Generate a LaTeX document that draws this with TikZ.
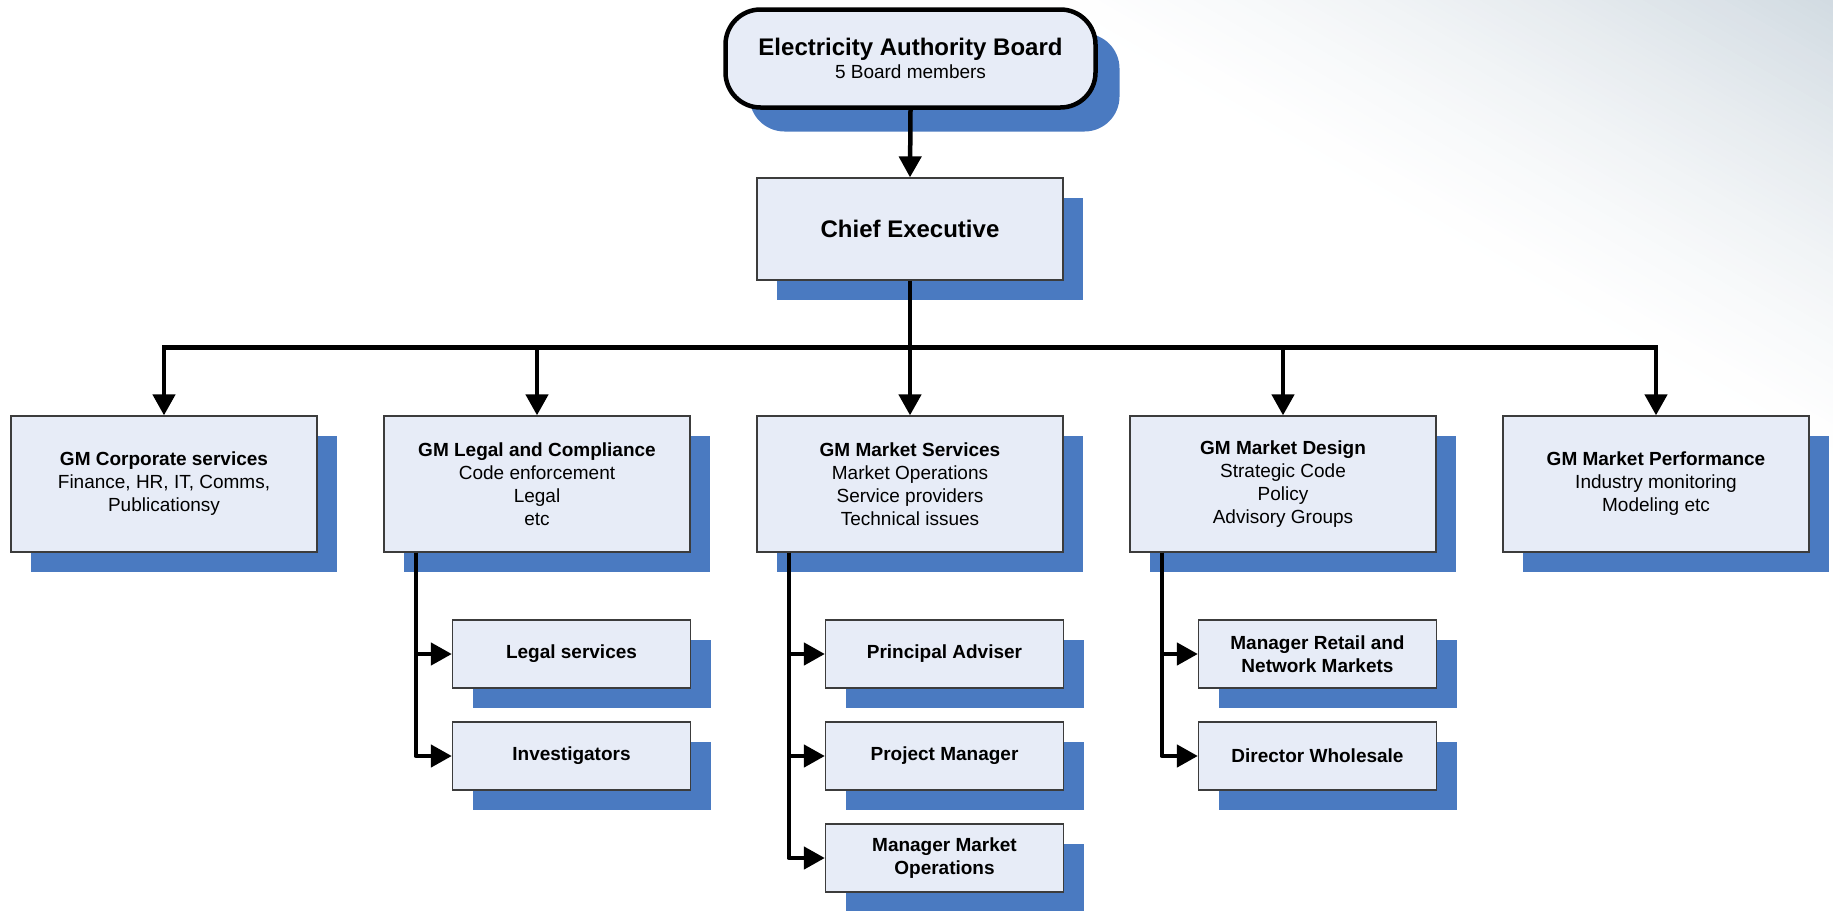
\documentclass[tikz,border=0pt]{standalone}
\usepackage{fontspec}
\setmainfont{Liberation Sans}
\usetikzlibrary{arrows.meta,shadows,calc}
\definecolor{boxfill}{RGB}{231,236,247}
\definecolor{shadowblue}{RGB}{74,122,193}
\definecolor{boxline}{RGB}{60,60,60}
\definecolor{haze}{RGB}{210,219,226}

\begin{document}
\begin{tikzpicture}[x=1pt,y=-1pt,
  every node/.style={font=\fontsize{19}{23}\selectfont},
  box/.style={draw=boxline, line width=1.3pt, fill=boxfill, align=center, inner sep=0pt,
    drop shadow={shadow xshift=20pt, shadow yshift=-20pt, fill=shadowblue, opacity=1}},
  gmbox/.style={box, minimum width=306pt, minimum height=136pt},
  subbox/.style={box, minimum width=238pt, minimum height=68pt,
    font=\fontsize{19}{23}\selectfont\bfseries},
  boardbox/.style={draw=black, line width=4.5pt, fill=boxfill, rounded corners=35pt,
    align=center, inner sep=0pt, minimum width=370pt, minimum height=98pt,
    drop shadow={shadow xshift=24pt, shadow yshift=-24pt, fill=shadowblue, opacity=1}},
  conn/.style={line width=4.5pt, black},
  arr/.style={conn, line join=miter, -{Triangle[length=21pt,width=22pt]}},
  subarr/.style={conn, line join=round, -{Triangle[length=21pt,width=22pt]}}
]
\useasboundingbox (0,0) rectangle (1833,910);

% background with a soft tint fading out from the upper right corner
\fill[white] (0,0) rectangle (1833,910);
\begin{scope}
  \clip (0,0) rectangle (1833,910);
  \foreach \i in {0,...,59} {
    \pgfmathsetmacro\d{\i*6.8}
    \pgfmathtruncatemacro\p{100*(1-\i/60)^1.4}
    \fill[haze!\p!white, rotate around={-30:(1833,0)}]
      (-1000,\d) rectangle (2600,\d+7.3);
  }
\end{scope}

% board and chief executive
\node[boardbox] (board) at (910.5,58.5)
  {{\fontsize{24}{25}\selectfont\bfseries Electricity Authority Board}\\
   {\fontsize{19}{25}\selectfont 5 Board members}};
\node[box, minimum width=306pt, minimum height=102pt,
  font=\fontsize{24}{28}\selectfont\bfseries] (ce) at (910,229) {Chief Executive};

% general managers
\node[gmbox] (gm1) at (164,484)
  {\textbf{GM Corporate services}\\Finance, HR, IT, Comms,\\Publicationsy};
\node[gmbox] (gm2) at (537,484)
  {\textbf{GM Legal and Compliance}\\Code enforcement\\Legal\\etc};
\node[gmbox] (gm3) at (910,484)
  {\textbf{GM Market Services}\\Market Operations\\Service providers\\Technical issues};
\node[gmbox] (gm4) at (1283,484)
  {\textbf{GM Market Design}\\Strategic Code\\Policy\\Advisory Groups};
\node[gmbox] (gm5) at (1656,484)
  {\textbf{GM Market Performance}\\Industry monitoring\\Modeling etc};

% teams below the general managers
\node[subbox] (legal) at (571.5,654) {Legal services};
\node[subbox] (invest) at (571.5,756) {Investigators};
\node[subbox] (adviser) at (944.5,654) {Principal Adviser};
\node[subbox] (project) at (944.5,756) {Project Manager};
\node[subbox] (mops) at (944.5,858) {Manager Market\\Operations};
\node[subbox] (retail) at (1317.5,654) {Manager Retail and\\Network Markets};
\node[subbox] (whole) at (1317.5,756) {Director Wholesale};

% reporting lines
\draw[arr] (board.south) -- (ce.north);
\draw[conn] (ce.south) -- ++(0,67) coordinate (bus);
\foreach \g in {gm1,gm2,gm3,gm4,gm5}
  \draw[arr] (bus) -| (\g.north);

\coordinate (t2) at ($(gm2.south west)+(32.5,0)$);
\coordinate (t3) at ($(gm3.south west)+(32.5,0)$);
\coordinate (t4) at ($(gm4.south west)+(32.5,0)$);
\draw[subarr] (t2) |- (legal.west);
\draw[subarr] (t2) |- (invest.west);
\draw[subarr] (t3) |- (adviser.west);
\draw[subarr] (t3) |- (project.west);
\draw[subarr] (t3) |- (mops.west);
\draw[subarr] (t4) |- (retail.west);
\draw[subarr] (t4) |- (whole.west);
\end{tikzpicture}
\end{document}
